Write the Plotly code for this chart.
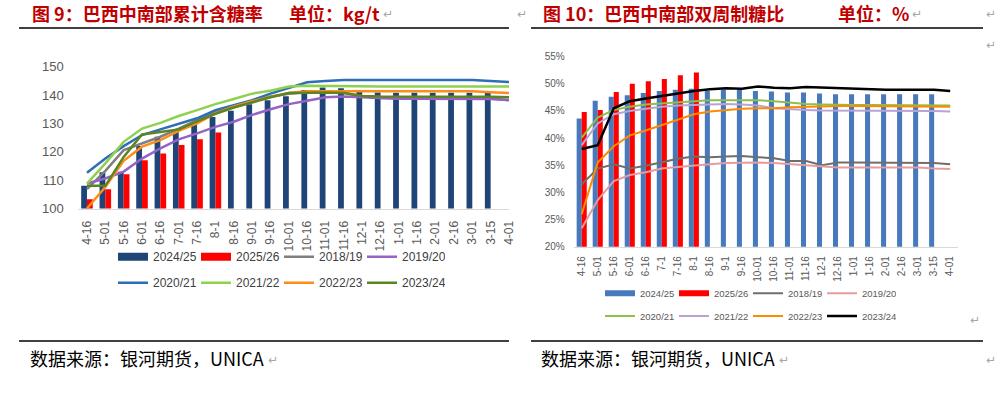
import plotly.graph_objects as go

W, H = 1002, 395

# ---------------- Left chart data (kg/t) ----------------
cats_left = ["4-16", "5-01", "5-16", "6-01", "6-16", "7-01", "7-16", "8-1", "8-16", "9-01",
             "9-16", "10-01", "10-16", "11-01", "11-16", "12-1", "12-16", "1-01", "1-16",
             "2-01", "2-16", "3-01", "3-15", "4-01"]
left_2425 = [108, 112.8, 113, 122, 125.3, 127.9, 129.8, 132.3, 134.5, 136.8, 138.2, 139.6,
             141.8, 142.7, 142.4, 141.8, 140.9, 140.8, 140.8, 140.8, 140.8, 140.8, 140.7]
left_2526 = [103.3, 106.8, 112.1, 117, 119.4, 122.4, 124.4, 126.8]
left_1819 = [106.8, 113.3, 120.6, 122.9, 125.3, 128.2, 131.2, 134.1, 136.1, 137.7, 139.5, 140.5,
             141, 141, 140.8, 139.5, 139, 138.9, 138.9, 138.9, 138.9, 138.9, 138.8, 138.2]
left_1920 = [108.8, 110.6, 113, 117.6, 121.2, 124.4, 126.5, 128.8, 130.6, 133, 135, 136.8,
             138, 139.2, 139.5, 139.2, 138.8, 138.7, 138.7, 138.7, 138.7, 138.7, 138.6, 138.3]
left_2021 = [112.6, 117.6, 122, 125.9, 127.9, 129.8, 131.8, 134.7, 136.5, 138.2, 140.5, 142.5,
             144.5, 145, 145.3, 145.3, 145.3, 145.3, 145.3, 145.3, 145.3, 145.3, 145, 144.6]
left_2122 = [108.8, 115.9, 123.5, 128.2, 130.2, 132.6, 134.7, 136.8, 138.6, 140.5, 141.5, 143,
             143.3, 143.2, 143, 143, 143, 143, 143, 143, 143, 143, 143, 143]
left_2223 = [100, 107.6, 116.8, 121.8, 124.1, 127.4, 130, 133.5, 136, 137.8, 139.3, 140.7,
             141.3, 141.3, 141.3, 141.3, 141.3, 141.3, 141.3, 141.3, 141.3, 141.3, 141, 140.7]
left_2324 = [108, 108, 118.2, 126.1, 127, 127.9, 130.7, 133.4, 135.6, 137.4, 139.2, 140.7,
             140.9, 140.9, 140.7, 139.7, 139.5, 139.5, 139.5, 139.5, 139.5, 139.5, 139.4, 139.2]
left_yticks = [100, 110, 120, 130, 140, 150]

# ---------------- Right chart data (%) ----------------
cats_right = ["4-16", "5-01", "5-16", "6-01", "6-16", "7-1", "7-16", "8-1", "8-16", "9-1",
              "9-16", "10-01", "10-16", "11-01", "11-16", "12-1", "12-16", "1-01", "1-16",
              "2-01", "2-16", "3-01", "3-15", "4-01"]
right_2425 = [43.6, 46.9, 47.6, 47.9, 48.3, 48.7, 48.9, 49.1, 48.7, 48.9, 48.9, 48.7, 48.6,
              48.4, 48.4, 48.2, 48.1, 48.1, 48.1, 48.1, 48.1, 48.1, 48.1]
right_2526 = [44.8, 45.2, 48.5, 50.0, 50.5, 50.9, 51.6, 52.1]
right_1819 = [31.5, 34.4, 35.2, 34.4, 34.9, 35.5, 36.2, 36.6, 36.5, 36.6, 36.7, 36.5, 36.3,
              35.8, 35.8, 35.0, 35.5, 35.5, 35.5, 35.5, 35.5, 35.5, 35.4, 35.2]
right_1920 = [23.4, 28.6, 32.1, 33.2, 33.7, 34.4, 34.7, 35.0, 35.2, 35.4, 35.5, 35.5, 35.4,
              35.2, 34.9, 34.7, 34.6, 34.6, 34.6, 34.6, 34.6, 34.6, 34.4, 34.3]
right_2021 = [40.1, 43.8, 45.2, 45.8, 46.2, 46.4, 46.6, 46.9, 47.0, 47.0, 47.0, 47.0, 46.8,
              46.5, 46.3, 46.2, 46.1, 46.1, 46.1, 46.1, 46.1, 46.1, 46.1, 46.0]
right_2122 = [38.7, 42.7, 44.4, 45.0, 45.4, 45.8, 46.0, 46.1, 46.2, 46.3, 46.2, 46.0, 45.5,
              45.3, 45.2, 45.1, 45.1, 45.1, 45.1, 45.1, 45.1, 45.1, 45.0, 44.9]
right_2223 = [26.0, 35.5, 38.5, 40.5, 41.4, 42.4, 43.5, 44.4, 44.9, 45.2, 45.4, 45.5, 45.5,
              45.7, 45.8, 45.9, 45.9, 45.9, 45.9, 45.9, 45.9, 45.9, 45.9, 45.8]
right_2324 = [38.0, 38.7, 45.5, 46.8, 47.3, 47.8, 48.2, 48.7, 49.0, 49.2, 49.1, 49.5, 49.3,
              49.2, 49.4, 49.3, 49.1, 49.0, 48.9, 48.9, 48.9, 48.9, 48.9, 48.7]
right_yticks = [20, 25, 30, 35, 40, 45, 50, 55]
right_yticktext = ["20%", "25%", "30%", "35%", "40%", "45%", "50%", "55%"]

NUM_FONT = "Liberation Sans, Arial, sans-serif"
CJK_FONT = "Noto Sans CJK SC, sans-serif"


def px_x(p):
    return p / W


def px_y(p):
    return 1 - p / H


fig = go.Figure()

# ---- Left chart traces ----
fig.add_trace(go.Bar(x=cats_left[:len(left_2425)], y=left_2425, name="2024/25",
                     marker=dict(color="#1F4477", line=dict(width=0)),
                     xaxis="x", yaxis="y", showlegend=False, offsetgroup="a"))
fig.add_trace(go.Bar(x=cats_left[:len(left_2526)], y=left_2526, name="2025/26",
                     marker=dict(color="#FF0000", line=dict(width=0)),
                     xaxis="x", yaxis="y", showlegend=False, offsetgroup="b"))
left_lines = [
    ("2018/19", left_1819, "#7F7F7F", "legend"),
    ("2019/20", left_1920, "#9563C6", "legend"),
    ("2020/21", left_2021, "#2E6DB8", "legend2"),
    ("2021/22", left_2122, "#8FD14F", "legend2"),
    ("2022/23", left_2223, "#FF8C1A", "legend2"),
    ("2023/24", left_2324, "#5B8520", "legend2"),
]
# legend proxies for the bar series (no data drawn)
fig.add_trace(go.Scatter(x=[None], y=[None], mode="lines", name="2024/25",
                         line=dict(color="#1F4477", width=8), xaxis="x", yaxis="y",
                         legend="legend"))
fig.add_trace(go.Scatter(x=[None], y=[None], mode="lines", name="2025/26",
                         line=dict(color="#FF0000", width=8), xaxis="x", yaxis="y",
                         legend="legend"))
for name, vals, col, lg in left_lines:
    fig.add_trace(go.Scatter(x=cats_left, y=vals, name=name, mode="lines",
                             line=dict(color=col, width=2.5), xaxis="x", yaxis="y",
                             legend=lg))

# ---- Right chart traces ----
fig.add_trace(go.Bar(x=cats_right[:len(right_2425)], y=right_2425, name="2024/25",
                     marker=dict(color="#4779BC", line=dict(width=0)),
                     xaxis="x2", yaxis="y2", showlegend=False, offsetgroup="c"))
fig.add_trace(go.Bar(x=cats_right[:len(right_2526)], y=right_2526, name="2025/26",
                     marker=dict(color="#FF0000", line=dict(width=0)),
                     xaxis="x2", yaxis="y2", showlegend=False, offsetgroup="d"))
fig.add_trace(go.Scatter(x=[None], y=[None], mode="lines", name="2024/25",
                         line=dict(color="#4779BC", width=6), xaxis="x2", yaxis="y2",
                         legend="legend3"))
fig.add_trace(go.Scatter(x=[None], y=[None], mode="lines", name="2025/26",
                         line=dict(color="#FF0000", width=6), xaxis="x2", yaxis="y2",
                         legend="legend3"))
right_lines = [
    ("2018/19", right_1819, "#6E6E6E", 2, "legend3"),
    ("2019/20", right_1920, "#E49C9C", 2, "legend3"),
    ("2020/21", right_2021, "#8CC04A", 2, "legend4"),
    ("2021/22", right_2122, "#B7A3D6", 2, "legend4"),
    ("2022/23", right_2223, "#FF8A00", 2, "legend4"),
    ("2023/24", right_2324, "#000000", 2.5, "legend4"),
]
for name, vals, col, lw, lg in right_lines:
    fig.add_trace(go.Scatter(x=cats_right, y=vals, name=name, mode="lines",
                             line=dict(color=col, width=lw), xaxis="x2", yaxis="y2",
                             legend=lg))

# ---- Axes (positions in window pixels) ----
L_X0, L_X1 = 77.8, 509.0
L_Y150, L_Y100 = 66.7, 208.5
R_X0, R_X1 = 573.7, 958.2
R_Y55, R_Y20 = 56.7, 246.7

common_x = dict(type="category", showgrid=False, zeroline=False, showline=True,
                linecolor="#D9D9D9", linewidth=1.5, ticks="", tickangle=-90,
                fixedrange=True)


def legend_cfg(x, y, entry, size, color):
    return dict(orientation="h", x=px_x(x), y=px_y(y), xanchor="left",
                yanchor="middle", entrywidth=entry, entrywidthmode="pixels",
                font=dict(family=NUM_FONT, size=size, color=color),
                bgcolor="rgba(0,0,0,0)", borderwidth=0, traceorder="normal",
                itemclick=False, itemdoubleclick=False, tracegroupgap=0)


fig.update_layout(
    width=W, height=H,
    margin=dict(l=0, r=0, t=0, b=0, autoexpand=False),
    paper_bgcolor="white", plot_bgcolor="rgba(0,0,0,0)",
    barmode="group", bargap=0.37, bargroupgap=0,
    xaxis=dict(common_x, domain=[px_x(L_X0), px_x(L_X1)], range=[-0.5, 23.0],
               tickfont=dict(family=NUM_FONT, size=12, color="#595959"),
               ticklabelstandoff=6, anchor="y"),
    yaxis=dict(domain=[px_y(L_Y100), px_y(L_Y150)], range=[100, 150],
               tickvals=left_yticks, showgrid=False, zeroline=False, showline=False,
               ticks="", tickfont=dict(family=NUM_FONT, size=13, color="#595959"),
               ticklabelstandoff=13, anchor="x"),
    xaxis2=dict(common_x, domain=[px_x(R_X0), px_x(R_X1)], range=[-0.5, 23.5],
                tickfont=dict(family=NUM_FONT, size=10, color="#595959"),
                ticklabelstandoff=4, anchor="y2"),
    yaxis2=dict(domain=[px_y(R_Y20), px_y(R_Y55)], range=[20, 55],
                tickmode="array", tickvals=right_yticks, ticktext=right_yticktext,
                showgrid=False, zeroline=False, showline=False, ticks="",
                tickfont=dict(family=NUM_FONT, size=10, color="#595959"),
                ticklabelstandoff=8, anchor="x2"),
    legend=legend_cfg(113, 256.7, 38, 12, "#404040"),
    legend2=legend_cfg(113, 282.7, 38, 12, "#404040"),
    legend3=legend_cfg(600, 293.3, 29, 9.5, "#595959"),
    legend4=legend_cfg(600, 316, 29, 9.5, "#595959"),
)

# ---- Frame lines ----
shapes = []
for (x0, x1) in [(19, 509), (531, 983)]:
    for yy in (28, 341):
        shapes.append(dict(type="line", xref="paper", yref="paper",
                           x0=px_x(x0), x1=px_x(x1), y0=px_y(yy), y1=px_y(yy),
                           line=dict(color="#000000", width=1.5)))
fig.update_layout(shapes=shapes)

# ---- Texts ----
ann = []


def add_text(txt, x, y, size, color, family, bold=False, anchor="left"):
    if bold:
        txt = "<b>" + txt + "</b>"
    ann.append(dict(text=txt, x=px_x(x), y=px_y(y), xref="paper", yref="paper",
                    xanchor=anchor, yanchor="middle", showarrow=False,
                    font=dict(size=size, color=color, family=family)))


TITLE_RED = "#C00000"
add_text("图 9：巴西中南部累计含糖率", 30, 13, 18, TITLE_RED, CJK_FONT, bold=True)
add_text("单位：kg/t", 287, 13, 18, TITLE_RED, CJK_FONT, bold=True)
add_text("图 10：巴西中南部双周制糖比", 541, 13, 18, TITLE_RED, CJK_FONT, bold=True)
add_text("单位：%", 836, 13, 18, TITLE_RED, CJK_FONT, bold=True)
add_text("数据来源：银河期货，UNICA", 28, 358, 18, "#000000", CJK_FONT)
add_text("数据来源：银河期货，UNICA", 539, 358, 18, "#000000", CJK_FONT)

RET = "#A6A6A6"
RF = "DejaVu Sans, sans-serif"
for (x, y) in [(381, 14), (515, 14), (910, 14), (984, 14), (984, 45),
               (968, 320), (266, 360), (777, 360), (984, 360)]:
    add_text("↵", x, y, 12, RET, RF)

fig.update_layout(annotations=ann)

# remove the page's default body margin so the figure fills the window exactly
fig.write_html("out.html",
               config={"displayModeBar": False, "staticPlot": True},
               post_script="document.body.style.margin='0';"
                           "document.body.style.overflow='hidden';")
